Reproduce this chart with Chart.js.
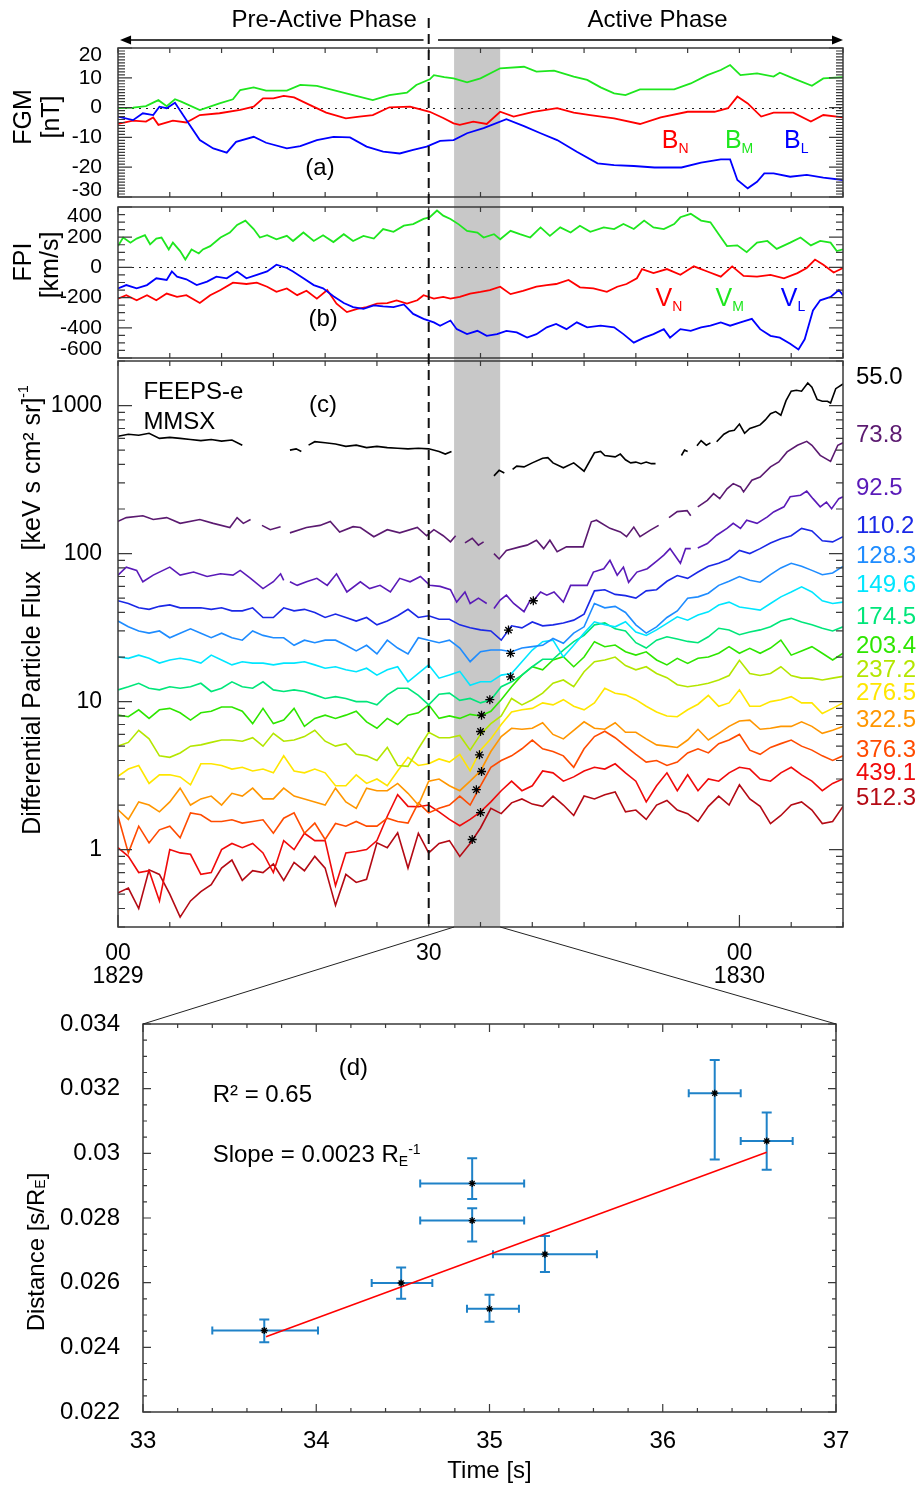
<!DOCTYPE html>
<html>
<head>
<meta charset="utf-8">
<title>MMS FGM / FPI / FEEPS 18:29-18:30 UT</title>
<script src="https://cdn.jsdelivr.net/npm/chart.js@4.4.1/dist/chart.umd.min.js"></script>
<style>
  body { margin: 0; background: #fff; }
  #page { position: relative; width: 921px; height: 1489px; overflow: hidden; }
  #page canvas { position: absolute; left: 0; }
</style>
</head>
<body>
<div id="page">
  <canvas id="fgm" width="921" height="163" style="top:40px"></canvas>
  <canvas id="fpi" width="921" height="157" style="top:203px"></canvas>
  <canvas id="feeps" width="921" height="633" style="top:360px"></canvas>
  <canvas id="fit" width="921" height="481" style="top:1008px"></canvas>
  <canvas id="overlay" width="921" height="1489" style="top:0"></canvas>
</div>
<script>
// Time axis of panels a-c: seconds after 18:29:00 UT.
const FONT = "'Liberation Sans', Arial, sans-serif";
Chart.defaults.font.family = FONT;
Chart.defaults.color = '#000';

const onsetT = 30;
const bandT = [32.45, 36.9];
const phaseLabels = ['Pre-Active Phase', 'Active Phase'];
const timeTickValues = [0, 30, 60];
const timeTickLabels = [['00', '1829'], ['30'], ['00', '1830']];

// (a) FGM [nT]
const bmT = [0,1.45,2.7,3.9,4.7,5.5,6.1,7.9,9.8,11.1,11.8,13.1,14.3,16.3,17.6,19.2,20.8,22.7,24.6,26.2,27.9,28.8,30.1,30.5,31.5,32.4,33.7,35,36.9,39.2,40.4,42.1,44,45.3,46.6,47.9,49,50.4,52,53.7,55.3,56.9,58.2,59.1,60.1,61.7,63.3,63.9,65.2,67,68.1,70];
const bmV = [-0.2,0,0.5,2.5,0.5,2.8,2,-0.8,1.4,2.8,5.9,6.8,5.7,5.7,7.6,7.3,5.9,4.2,2.5,4.2,5,7.6,9.5,10.9,10.2,9.8,8.5,9.8,13.2,13.7,12.1,12.4,10.4,9.3,6.8,4.8,4.2,6.1,6.1,6.1,8.1,10.9,12.6,14.3,10.9,11.5,10.4,11.7,9.8,7.3,9.8,10.2];
const bnT = [0,1.45,2.7,3.4,3.9,5.3,6.6,7.9,9.8,11.8,13.1,14,15,16,17,18.5,20.1,22,23.3,24.6,26.2,28.2,30.1,31.4,32.4,33,34.3,35.6,36.9,38.2,40.1,42.4,44,45.6,47.9,50.4,52.4,55,57.6,58.9,59.8,60.8,62.1,63.3,65.2,66.9,68.1,70];
const bnV = [-5.5,-4.4,-4.7,-3.3,-5.8,-4.4,-5,-2.5,-1.9,-0.8,0.3,3.1,3.1,3.9,3.4,0.9,-1.7,-3.6,-3,-2.5,0.1,0.3,-1.4,-3.5,-5.3,-5.8,-4.7,-5.5,-1.4,-3,-1.4,-0.2,-1.7,-2.5,-3.6,-5.5,-3.3,-1.4,-1.4,-0.2,3.7,1.4,-3,-1.7,-1.7,-4.7,-2.5,-3.3];
const blT = [0,1.45,2.4,3.4,4,4.7,5.5,6.6,7.9,9.2,10.5,11.4,13.1,14.3,16.3,17.6,19.2,20.8,22.4,24,25.6,27.2,28.5,29.8,31.1,32.4,33.7,35.3,37.5,39.2,40.8,42.4,44.3,46.3,47.9,49.8,51.8,54.4,56.3,58.2,59.1,59.8,60.8,61.7,62.4,63.3,64.9,66.5,68.1,70];
const blV = [-3,-4.2,-1.9,-2.5,0.3,-0.2,1.6,-4.2,-10.9,-13.7,-15.1,-11.5,-9.8,-11.8,-13.7,-12.9,-10.9,-9.8,-10,-13.1,-14.8,-15.4,-14.2,-13.1,-11.2,-10.9,-8.6,-6.9,-3.9,-6.2,-8.6,-10.9,-14.8,-18.7,-19.3,-19.6,-20.1,-20.1,-18.5,-17.4,-17.4,-24.3,-27.1,-24.9,-22.1,-22.1,-23.2,-22.6,-23.5,-24.3];

// (b) FPI [km/s]
const vmT = [0,0.5,1.2,1.8,2.6,3.1,3.7,4.2,4.9,5.3,6,6.5,7.1,7.8,8.2,8.9,9.9,10.8,11.5,12.3,13.1,13.7,14.4,15.3,16.3,16.9,17.9,18.9,19.8,20.8,21.8,22.7,23.7,24.7,25.6,26.6,27.6,28.5,29.5,30.1,30.8,31.4,32.1,32.9,33.7,34.7,35.3,36.3,36.9,37.9,38.8,39.8,40.8,41.7,42.7,43.7,44.6,45.6,46.9,47.9,48.8,49.8,50.8,51.7,52.7,53.7,54.3,55.3,56.3,57.2,58,58.8,59.8,60.7,61.7,62.7,63.6,64.9,65.9,66.9,67.8,68.8,69.4,70];
const vmV = [141,198,164,191,213,153,191,198,119,164,108,52,119,92,119,141,198,231,281,310,254,198,213,186,209,175,231,175,213,168,220,175,209,191,254,236,276,287,321,332,377,343,321,285,242,231,198,220,186,242,220,198,265,209,265,231,276,236,265,254,287,254,310,265,254,287,332,355,310,299,220,141,146,101,164,175,123,164,198,146,175,164,108,119];
const vnT = [0,0.8,1.8,2.8,3.7,4.7,5.7,6.6,7.9,8.9,9.9,11.1,12.4,13.4,14.4,15.3,16.3,17.3,18.2,19.2,20.2,21.1,22.1,23.1,24,25,26,26.9,27.9,28.9,29.5,30.5,31.4,32.1,33,34,35,35.9,36.9,37.9,39.1,40.4,41.4,42.3,43.5,44.6,45.9,47.2,48.2,49.1,50.1,50.6,51.7,53,54.3,55.6,56.9,58.2,59.3,60.4,61.7,63,64.3,65.6,66.5,67.3,68.1,69.1,70];
const vnV = [-207,-184,-218,-184,-218,-173,-195,-184,-236,-184,-150,-101,-110,-101,-128,-162,-139,-184,-155,-207,-150,-240,-296,-274,-263,-240,-236,-218,-240,-218,-184,-207,-195,-207,-195,-173,-162,-150,-128,-177,-155,-128,-117,-110,-83,-132,-139,-162,-128,-110,-72,-11,-38,-11,-49,7,-27,-61,7,-56,-61,-49,-72,-38,-4,52,18,-34,-4];
const vlT = [0,0.8,1.8,2.8,3.7,4.7,5.2,5.7,6.6,7.6,8.6,9.5,10.5,11.5,12.4,13.4,14.4,15.3,16.3,16.9,17.9,18.9,19.8,20.8,21.8,22.7,23.7,24.7,25.6,26.6,27.6,28.5,29.5,30.5,31.1,32.1,32.7,33.7,34.7,35.6,36.6,37.5,38.5,39.5,40.4,41.4,42.3,43.3,44.3,45.3,46.6,47.9,48.8,49.8,50.8,51.7,52.7,53.3,54.3,55.3,56.3,57.2,58.2,59.1,60.1,61.2,62,63,63.9,64.9,65.7,66.3,67.1,67.8,68.8,69.6,70];
const vlV = [-139,-117,-139,-117,-72,-83,-27,-61,-79,-117,-94,-61,-72,-27,-72,-49,-27,18,-4,-27,-72,-117,-139,-191,-236,-263,-274,-251,-258,-263,-245,-308,-341,-364,-386,-352,-409,-442,-420,-453,-442,-420,-431,-465,-442,-397,-375,-409,-364,-397,-386,-397,-442,-498,-465,-442,-409,-465,-409,-420,-397,-386,-364,-386,-364,-341,-409,-453,-465,-505,-543,-476,-285,-218,-195,-150,-184];

// (c) FEEPS electron flux [(keV s cm2 sr)^-1], channels in keV
const energyLabels = ['55.0','73.8','92.5','110.2','128.3','149.6','174.5','203.4','237.2','276.5','322.5','376.3','439.1','512.3'];
const fluxTicks = [1, 10, 100, 1000];
// channels with data gaps keep their own time stamps
const f55T = [0,1,2,3,4,5,6,7,8,9,10,11,12,12.5,16.6,17.2,17.7,18,18.4,19,20,21,22,23,24,25,26,27,28,29,30,31,31.6,32.2,32.5,36.3,36.8,37.3,37.6,38.1,38.5,39.2,40,41,41.5,42,43,44,45,46,46.6,47,48,48.5,49,49.5,50,50.5,51,51.5,51.9,52.3,54.4,54.7,55,55.3,55.9,56.3,56.8,57.2,57.5,57.8,58.5,59,59.5,60,60.5,61,61.5,62,62.5,63,63.5,64,64.5,65,65.5,66,66.6,67,67.5,68,68.5,68.8,69.3,70];
const f55V = [620,640,630,650,600,610,600,590,580,590,575,585,540,null,500,510,490,null,540,570,560,550,530,540,520,530,520,515,510,515,510,490,470,490,null,335,365,350,null,370,390,385,410,440,445,410,380,410,360,480,490,460,450,470,430,410,415,405,415,405,405,null,460,500,490,null,535,580,540,560,null,570,640,670,680,750,650,700,720,740,800,880,910,860,1080,1250,1270,1250,1420,1330,1100,1070,1070,1040,1300,1400];
const f74T = [0,0.8,2.4,3.4,4.7,6,7.9,9.2,10.8,11.5,12.1,12.8,13.2,13.9,14.7,15.7,16.1,16.6,18.2,19.5,20.5,21.4,22.7,23.4,24.7,26,27.2,28.9,29.8,30.5,31.4,32.1,32.6,33,33.5,34.2,34.8,35.3,35.7,36.3,36.8,37.5,38.8,39.5,40.4,41.1,41.7,42.4,43.3,44.9,45.7,46.2,47.5,48.5,49.1,49.8,50.4,51.4,52.2,52.7,53.2,54,54.95,55.3,55.6,55.98,56.9,57.5,58.1,58.8,59.4,60.1,60.4,61.2,62,63,63.8,64.6,65.6,66.5,67,67.8,68.8,69.5,70];
const f74V = [165,175,180,170,175,160,170,160,150,175,160,170,null,155,145,152,null,138,150,155,165,140,152,150,130,145,138,150,132,145,132,120,132,null,118,127,114,120,null,100,92,105,111,114,123,108,123,103,111,111,164,168,148,140,130,151,130,144,155,null,175,192,195,180,null,207,229,254,235,274,297,282,261,313,329,385,416,486,539,573,539,461,420,539,560];
const f92T = [0,0.8,1.8,2.4,3.4,5,6,7.3,8.6,9.9,11.1,11.8,12.8,14,15,15.7,16,16.3,16.6,17.3,18.2,19.2,20.2,21.1,22.1,23.4,24.3,25.3,26.3,27.2,28.2,29.2,30.1,31.1,32.1,32.7,33.5,34,34.8,35.6,35.9,36.3,36.9,37.5,38.2,39.2,39.8,40.1,40.8,41.4,42.1,43,43.7,44.6,45.3,45.9,46.9,47.5,48.2,48.8,49.3,50.1,51.1,52.1,52.7,53.3,54.3,54.8,55.3,55.6,55.98,56.9,57.8,58.8,59.4,60.1,60.7,61.7,62.7,63.3,64.3,64.9,65.9,66.5,67.1,67.8,68.4,68.9,69.6,70];
const f92V = [71.5,81,77,64.5,71.5,81,71.5,75,70,73,71.5,77,68,58,64.5,73,66,null,64.5,61,64.5,68,61,73,55,64.5,58,61,55,68,64.5,70,61,60,57,47,55,46,50,46,null,42.6,48.5,52.4,46,40.5,48.5,48,55,52.4,55,47,61,61,61,75,79,90,71.5,81,64,75,79,90,97.6,108,86,108,108,null,109,117,133,148,160,148,168,160,177,191,207,242,248,264,235,207,223,201,235,242];
// continuous channels share a 1 s grid
const fluxT = [0,1,2,3,4,5,6,7,8,9,10,11,12,13,14,15,16,17,18,19,20,21,22,23,24,25,26,27,28,29,30,31,32,33,34,35,36,37,38,39,40,41,42,43,44,45,46,47,48,49,50,51,52,53,54,55,56,57,58,59,60,61,62,63,64,65,66,67,68,69,70];
const f110 = [48,46,43,42,44,45,43,43,43,42,43,41,41,43,37,37,43,41,42,40,37,39,37,35,37,33,35,38,42,37,38,36,36,33,31.5,30.5,30,26,32.5,31.5,34.5,32.5,33,34,35.5,39,56,57,53,52,50,56,57,65,71,68,75,82,86,92,105,100,108,118,126,132,148,142,122,120,130];
const f128 = [35,32,30,29,30,27,29,31,29,27,29,27,26,30,28,27,27,24,26,25,26,26,24,22,24,21,26,23,21,27,26,25,26,23,18.6,21.7,22.3,22.3,21.7,23,23.5,24,26.7,24.8,29,32,46,43,44,40,33,29,32,37,41,50,51,54,61,65,70,66,64,72,80,86,82,77,72,74,82];
const f150 = [20,19.6,20.6,19.6,18.2,19.1,19.6,19.1,18.2,20.6,19.1,17.7,18.6,18.2,18.2,17.7,18.2,18.2,18.6,17.7,16.8,17.2,16.4,15.9,16.8,15.1,16.4,17.2,13.6,15.5,17.7,14.4,15.1,16,12.9,13.6,13.6,15.1,15.5,18.6,22.3,25.4,26,20,24,29,34.6,33,32,34.6,29.5,28,30.5,33.8,37.4,35.5,38.4,40.4,44.9,47,43.6,42.6,41.5,46,51,55,59.6,55,48,46,47];
const f175 = [12,12.6,13.3,12.3,12,12.6,12.3,12.6,13.3,11.7,12.3,13.6,12.6,12.3,13.6,12,11.7,12,11.7,11.1,10.5,10.8,10.5,10,10,9.5,11.1,12.3,12.3,11,9.5,11.2,11.4,10.2,10.5,9.8,10.3,12.6,13.6,15.1,17.2,19.3,19.3,22.3,25.4,28,33,34,31,30,25,23,26,27.4,26.5,25.5,25,27.4,31.3,30.5,28.3,29.5,30.5,32,35,36.5,34.5,33,31.3,30,32];
const f203 = [8.1,7.9,8.8,7.7,8.8,9,8.4,7.5,8.4,8.6,9.2,9.2,8.6,7.1,9,7.1,7.5,9,6.8,7.7,8.1,7.7,8.1,8.6,7.3,6.6,7.7,7,8.1,8.4,9.5,7.7,8,7.7,8.2,8,8.6,10.3,12.6,15.1,17.2,16.4,19.1,20.1,17.2,20,25.4,23.5,24.1,21.7,20.6,21.7,19.1,17.7,19.6,18.1,19.6,20,21.2,23.5,21.2,22.9,21.2,23,26,20.6,22,23.5,21.2,19.1,21.2];
const f237 = [5,5.3,6.4,5.6,4.3,4.2,4.5,5,5.1,5.3,5.5,5.5,5.4,5.7,5,6.1,5.4,5.5,5.8,6.4,5.4,5,5.2,4.4,4.3,4,4.9,3.7,3.65,4.8,6.2,5.7,5.7,5.9,4.7,6,7.1,8,10.5,9.5,10.3,11.4,13.3,14,12.6,15.9,18.6,19.1,20,17.5,16.4,17.2,15.5,14.5,13,12.6,12.9,13.3,14,15,19,15.5,15,15.5,17.2,15,14.4,14.4,14,14.4,14.8];
const f276 = [3.13,3.5,3.7,2.8,3.2,3.2,3.1,2.74,3.8,3.8,3.7,3.5,3.6,3.4,3.5,3.3,4.3,3.4,3.3,3.5,3.3,2.7,2.7,3.2,2.8,3,2.7,3.4,4.2,3.7,3.8,4.1,3.9,4.4,3.4,4.7,5.6,7,8.5,8.8,9,9.8,9.5,10.3,9.3,8.8,9.8,12.3,11.4,11.1,10.3,9.3,8.5,8,7.9,8.8,9.6,11,9.3,9.8,12,9.3,9.3,10,10.3,10.8,9.8,9.8,8.3,9,9.8];
const f322 = [1.86,1.6,2.1,2,1.8,2.1,2.6,2,2.2,2.3,2,2.4,2.3,2.6,2.2,2.2,2.6,2.3,2.2,2.1,2,2.6,2.1,1.9,2.6,2.5,2.5,2.8,2.4,2,2.9,3,2.7,2.5,2.9,3.4,4.6,5.8,6.6,6.5,6.6,7.2,6,5.6,6.4,7.3,6.6,6.5,7.2,6.2,6.2,5.6,5.1,5,4.9,5.5,6.5,5.5,6.1,6.8,7.4,7.5,6.5,6.6,6.8,6.8,7.3,6.8,6.1,6.4,6.8];
const f376 = [1.68,0.95,1.44,1.11,1.36,1.44,1.2,1.77,1.72,1.55,1.55,1.59,1.51,1.55,1.59,1.29,1.63,1.77,1.29,1.51,1.17,1.5,1.44,1.55,1.44,1.44,1.63,1.55,1.51,2.07,1.77,1.9,2,2.3,2,2.7,3.6,4,4.3,4.8,5.5,4.8,4.6,4.3,3.6,4.8,5.8,6.3,5.7,5,4.4,3.9,4,3.7,3.9,4.5,4.8,4.5,5.2,5.5,6,4.7,4.4,4.9,5.2,5.5,5,4.7,4.3,4,4.3];
const f439 = [1.03,0.9,0.7,0.72,0.45,1,0.95,0.93,0.68,0.7,1,1.1,1.03,1.1,0.95,0.7,1.15,1,1.29,1.15,1.15,0.57,0.95,0.97,1,1.15,1.68,2.35,1.96,1.95,2,1.8,1.6,1.45,1.6,1.8,2.1,2.5,2.9,2.5,2.7,3.4,3.3,2.9,3.1,3.4,3.6,3.5,3.8,3.3,2.9,2.1,2.7,3.3,2.5,3.2,2.5,3,2.9,3.3,3.6,3.5,3,2.9,3.3,3.6,3.2,2.9,2.5,2.8,3];
const f512 = [0.51,0.55,0.4,0.73,0.68,0.5,0.35,0.45,0.52,0.58,0.75,0.85,0.62,0.72,0.7,0.8,0.62,0.82,0.72,0.9,0.75,0.42,0.68,0.6,0.63,1.11,1.03,1.3,0.75,1.29,0.95,1.1,1.15,0.9,1.1,1.4,1.9,1.75,2.07,2.2,2.03,1.96,2.3,2,1.7,2.3,2.2,2.35,2.45,1.8,1.85,1.6,2,2.15,1.85,1.75,1.55,1.96,2.3,2,2.74,2.2,1.96,1.5,1.7,2,2.1,1.85,1.5,1.55,1.96];
// onset times picked per channel (asterisks)
const onsetPickT = [40.1,37.7,37.9,37.9,35.9,35.1,35.0,34.9,35.1,34.6,35.0,34.2];
const onsetPickV = [48,30.4,21.2,14.7,10.3,8.1,6.28,4.37,3.37,2.54,1.78,1.17];

// (d) onset time vs distance
const dTime   = [33.70,34.49,35.00,35.32,34.90,34.90,36.30,36.60];
const dTimeLo = [33.40,34.32,34.87,35.02,34.60,34.60,36.15,36.45];
const dTimeHi = [34.01,34.67,35.17,35.62,35.20,35.20,36.45,36.75];
const dDist   = [0.02452,0.02599,0.02519,0.02688,0.02907,0.02792,0.03186,0.03038];
const dDistLo = [0.02416,0.02550,0.02479,0.02633,0.02859,0.02727,0.02981,0.02949];
const dDistHi = [0.02486,0.02647,0.02563,0.02744,0.02985,0.02830,0.03289,0.03126];
const fitT = [33.71, 36.6];
const fitD = [0.02433, 0.03003];

// ---- styling / layout ----
const energyColors = ['#000000','#5b1a70','#5a1ab8','#1a28e6','#1e8cff','#00e6ff','#00e67a','#2ee600','#b4e600','#ffe600','#ff9600','#ff4b00','#f00a0a','#b40a14'];
const energyLabelY = [377,435,488,526,556,585,617,646,670,693,720,750,773,798];
const RED = '#ff0000', GREEN = '#1ee61e', BLUE = '#0000ff';

const xy = (t, v) => t.map((x, i) => ({ x, y: v[i] }));

function line(data, color, width) {
  return { data, borderColor: color, borderWidth: width || 1.6, pointRadius: 0, tension: 0, fill: false, spanGaps: false };
}

function linearTicks(min, max, minor, major) {
  const out = [];
  const n0 = Math.ceil(min / minor - 1e-6), n1 = Math.floor(max / minor + 1e-6);
  for (let n = n0; n <= n1; n++) {
    const v = n * minor;
    out.push([v, Math.abs(v / major - Math.round(v / major)) < 1e-6]);
  }
  return out;
}

function logTicks(min, max) {
  const out = [];
  for (let d = Math.floor(Math.log10(min)); d <= Math.ceil(Math.log10(max)); d++) {
    for (let m = 1; m <= 9; m++) {
      const v = m * Math.pow(10, d);
      if (v >= min && v <= max) out.push([v, m === 1]);
    }
  }
  return out;
}

// parts: [text, color, kind] with kind 0 normal, 1 subscript, 2 superscript
function drawRich(ctx, x, y, parts, size, align) {
  const small = Math.round(size * 0.58);
  let w = 0;
  parts.forEach(p => { ctx.font = `${p[2] ? small : size}px ${FONT}`; w += ctx.measureText(p[0]).width; });
  let cx = align === 'center' ? x - w / 2 : x;
  ctx.textAlign = 'left';
  parts.forEach(p => {
    ctx.font = `${p[2] ? small : size}px ${FONT}`;
    ctx.fillStyle = p[1] || '#000';
    const dy = p[2] === 1 ? size * 0.18 : p[2] === 2 ? -size * 0.34 : 0;
    ctx.fillText(p[0], cx, y + dy);
    cx += ctx.measureText(p[0]).width;
  });
}

// IDL-like box: shaded interval, zero line, inward ticks, labels in data coords
const idlPlugin = {
  id: 'idl',
  beforeDraw(chart, args, o) {
    if (!o.clampLabels) return;
    const a = chart.chartArea;
    chart.scales.y.getLabelItems().forEach(it => {
      const tr = it.options.translation;
      tr[1] = Math.min(Math.max(tr[1], a.top + o.clampLabels), a.bottom - o.clampLabels);
    });
  },
  beforeDatasetsDraw(chart, args, o) {
    const { ctx, chartArea: a, scales: { x, y } } = chart;
    ctx.save();
    if (o.band) {
      const x0 = x.getPixelForValue(o.band[0]), x1 = x.getPixelForValue(o.band[1]);
      const y0 = o.bandTop === 'canvas' ? 0 : a.top;
      const y1 = o.bandBottom === 'canvas' ? chart.height : a.bottom;
      ctx.fillStyle = '#c8c8c8';
      ctx.fillRect(x0, y0, x1 - x0, y1 - y0);
    }
    if (o.zero) {
      const yz = Math.round(y.getPixelForValue(0)) + 0.5;
      ctx.strokeStyle = '#222';
      ctx.lineWidth = 1;
      ctx.setLineDash([2, 5]);
      ctx.beginPath(); ctx.moveTo(a.left, yz); ctx.lineTo(a.right, yz); ctx.stroke();
      ctx.setLineDash([]);
    }
    if (o.errors) {
      const e = o.errors;
      ctx.strokeStyle = '#1f82c8';
      ctx.lineWidth = 2;
      ctx.beginPath();
      e.t.forEach((t, i) => {
        const px = x.getPixelForValue(t), py = y.getPixelForValue(e.d[i]);
        const xl = x.getPixelForValue(e.tLo[i]), xr = x.getPixelForValue(e.tHi[i]);
        const yt = y.getPixelForValue(e.dHi[i]), yb = y.getPixelForValue(e.dLo[i]);
        ctx.moveTo(xl, py); ctx.lineTo(xr, py);
        ctx.moveTo(xl, py - 4); ctx.lineTo(xl, py + 4);
        ctx.moveTo(xr, py - 4); ctx.lineTo(xr, py + 4);
        ctx.moveTo(px, yt); ctx.lineTo(px, yb);
        ctx.moveTo(px - 5, yt); ctx.lineTo(px + 5, yt);
        ctx.moveTo(px - 5, yb); ctx.lineTo(px + 5, yb);
      });
      ctx.stroke();
    }
    ctx.restore();
  },
  afterDatasetsDraw(chart, args, o) {
    const { ctx, chartArea: a, scales: { x, y } } = chart;
    ctx.save();
    ctx.strokeStyle = '#3a3a3a';
    ctx.lineWidth = 1.2;
    ctx.beginPath();
    linearTicks(x.min, x.max, o.xMinor, o.xMajor).forEach(([v, major]) => {
      const px = x.getPixelForValue(v);
      ctx.moveTo(px, a.top); ctx.lineTo(px, a.top + (major ? o.xTopMajor : o.xTopMinor));
      ctx.moveTo(px, a.bottom); ctx.lineTo(px, a.bottom - (major ? o.xBotMajor : o.xBotMinor));
    });
    const yt = o.log ? logTicks(y.min, y.max) : linearTicks(y.min, y.max, o.yMinor, o.yMajor);
    yt.forEach(([v, major]) => {
      const py = y.getPixelForValue(v);
      const len = major ? o.yMajorLen : o.yMinorLen;
      ctx.moveTo(a.left, py); ctx.lineTo(a.left + len, py);
      ctx.moveTo(a.right, py); ctx.lineTo(a.right - len, py);
    });
    ctx.stroke();
    ctx.lineWidth = 1.5;
    ctx.strokeRect(a.left, a.top, a.right - a.left, a.bottom - a.top);
    ctx.restore();
  },
  afterDraw(chart, args, o) {
    const { ctx, scales: { x, y } } = chart;
    (o.notes || []).forEach(n => {
      ctx.save();
      ctx.textBaseline = 'alphabetic';
      drawRich(ctx, x.getPixelForValue(n.x), y.getPixelForValue(n.y), n.parts, n.size || 24, n.align);
      ctx.restore();
    });
  }
};
Chart.register(idlPlugin);

const tickFont = { size: 23, lineHeight: 1 };
const smallTickFont = { size: 21, lineHeight: 1 };

// scale label overflow must not shrink the plot box
function noPad(s) { s.paddingTop = 0; s.paddingBottom = 0; s.paddingLeft = 0; s.paddingRight = 0; }

function yScale(width, padding, extra) {
  return Object.assign({
    grid: { display: false },
    border: { display: false },
    afterFit: s => { s.width = width; noPad(s); },
  }, extra, {
    ticks: Object.assign({ color: '#000', font: tickFont, padding, autoSkip: false }, extra.ticks || {}),
  });
}

function baseOptions(padding, scales, idl) {
  return {
    responsive: false,
    animation: false,
    devicePixelRatio: 1,
    events: [],
    layout: { padding, autoPadding: false },
    scales,
    plugins: { legend: { display: false }, tooltip: { enabled: false }, idl },
  };
}

const timeBoxTicks = { xMinor: 5, xMajor: 30, xTopMinor: 5, xTopMajor: 5, xBotMinor: 5, xBotMajor: 5 };

// (a)
const fgmChart = new Chart(document.getElementById('fgm'), {
  type: 'line',
  data: { datasets: [
    line(xy(blT, blV), BLUE, 1.8),
    line(xy(bnT, bnV), RED, 1.8),
    line(xy(bmT, bmV), GREEN, 1.8),
  ] },
  options: baseOptions({ top: 8, bottom: 6, left: 0, right: 78 }, {
    x: { type: 'linear', min: 0, max: 70, display: false },
    y: yScale(118, 8, { min: -30, max: 20, ticks: { stepSize: 10, font: smallTickFont, callback: v => String(v) } }),
  }, Object.assign({}, timeBoxTicks, {
    band: bandT, bandBottom: 'canvas', zero: true, clampLabels: 7,
    yMinor: 1, yMajor: 10, yMinorLen: 7, yMajorLen: 14,
    notes: [
      { x: 19.5, y: -22.6, parts: [['(a)']], size: 24, align: 'center' },
      { x: 52.5, y: -13.7, parts: [['B', RED, 0], ['N', RED, 1]], size: 25 },
      { x: 58.6, y: -13.7, parts: [['B', GREEN, 0], ['M', GREEN, 1]], size: 25 },
      { x: 64.3, y: -13.7, parts: [['B', BLUE, 0], ['L', BLUE, 1]], size: 25 },
    ],
  })),
});

// (b)
const fpiChart = new Chart(document.getElementById('fpi'), {
  type: 'line',
  data: { datasets: [
    line(xy(vlT, vlV), BLUE, 1.8),
    line(xy(vnT, vnV), RED, 1.8),
    line(xy(vmT, vmV), GREEN, 1.8),
  ] },
  options: baseOptions({ top: 4, bottom: 2, left: 0, right: 78 }, {
    x: { type: 'linear', min: 0, max: 70, display: false },
    y: yScale(118, 8, { min: -600, max: 400, ticks: { stepSize: 200, font: smallTickFont, callback: v => String(v) } }),
  }, Object.assign({}, timeBoxTicks, {
    band: bandT, bandTop: 'canvas', bandBottom: 'canvas', zero: true, clampLabels: 9,
    yMinor: 50, yMajor: 200, yMinorLen: 7, yMajorLen: 14,
    notes: [
      { x: 19.8, y: -387, parts: [['(b)']], size: 24, align: 'center' },
      { x: 51.9, y: -258, parts: [['V', RED, 0], ['N', RED, 1]], size: 25 },
      { x: 57.7, y: -258, parts: [['V', GREEN, 0], ['M', GREEN, 1]], size: 25 },
      { x: 64.0, y: -258, parts: [['V', BLUE, 0], ['L', BLUE, 1]], size: 25 },
    ],
  })),
});

// (c)
const gridSeries = [f110, f128, f150, f175, f203, f237, f276, f322, f376, f439, f512];
const feepsChart = new Chart(document.getElementById('feeps'), {
  type: 'line',
  data: { datasets: [
    { data: xy(onsetPickT, onsetPickV), showLine: false, pointStyle: 'star', pointRadius: 4.5, borderColor: '#000', borderWidth: 1.3 },
    line(xy(f55T, f55V), energyColors[0]),
    line(xy(f74T, f74V), energyColors[1]),
    line(xy(f92T, f92V), energyColors[2]),
    ...gridSeries.map((s, i) => line(xy(fluxT, s), energyColors[i + 3])),
  ] },
  options: baseOptions({ top: 1, bottom: 0, left: 0, right: 78 }, {
    x: {
      type: 'linear', min: 0, max: 70,
      grid: { display: false }, border: { display: false },
      afterBuildTicks: s => { s.ticks = timeTickValues.map(v => ({ value: v })); },
      afterFit: s => { s.height = 66; noPad(s); },
      ticks: {
        color: '#000', font: tickFont, padding: 7, autoSkip: false, maxRotation: 0,
        callback: v => timeTickLabels[timeTickValues.indexOf(v)],
      },
    },
    y: yScale(118, 8, {
      type: 'logarithmic', min: 0.3, max: 2000,
      afterBuildTicks: s => { s.ticks = fluxTicks.map(v => ({ value: v })); },
      ticks: { callback: v => String(v) },
    }),
  }, Object.assign({}, timeBoxTicks, {
    band: bandT, bandTop: 'canvas', log: true, xBotMajor: 12,
    yMinorLen: 7, yMajorLen: 14,
    notes: [
      { x: 19.8, y: 898, parts: [['(c)']], size: 24, align: 'center' },
      { x: 2.45, y: 1110, parts: [['FEEPS-e']], size: 24 },
      { x: 2.45, y: 697, parts: [['MMSX']], size: 24 },
    ],
  })),
});

// (d)
const fitChart = new Chart(document.getElementById('fit'), {
  type: 'line',
  data: { datasets: [
    { data: xy(dTime, dDist), showLine: false, pointStyle: 'star', pointRadius: 3.5, borderColor: '#000', borderWidth: 1.3 },
    line(xy(fitT, fitD), '#ff0000', 1.6),
  ] },
  options: baseOptions({ top: 16, bottom: 0, left: 0, right: 85 }, {
    x: {
      type: 'linear', min: 33, max: 37,
      grid: { display: false }, border: { display: false },
      afterFit: s => { s.height = 77; noPad(s); },
      ticks: { color: '#000', font: { size: 24, lineHeight: 1 }, padding: 9, stepSize: 1, autoSkip: false, maxRotation: 0 },
      title: { display: true, text: 'Time [s]', color: '#000', font: { size: 24, lineHeight: 1.2 }, padding: { top: 0, bottom: 3 } },
    },
    y: yScale(143, 15, {
      min: 0.022, max: 0.034,
      ticks: { stepSize: 0.002, font: { size: 24, lineHeight: 1 }, callback: v => String(+v.toFixed(3)) },
    }),
  }, {
    xMinor: 0.2, xMajor: 1, xTopMinor: 4, xTopMajor: 8, xBotMinor: 4, xBotMajor: 8,
    yMinor: 0.0005, yMajor: 0.002, yMinorLen: 4, yMajorLen: 8,
    errors: { t: dTime, d: dDist, tLo: dTimeLo, tHi: dTimeHi, dLo: dDistLo, dHi: dDistHi },
    notes: [
      { x: 34.214, y: 0.03241, parts: [['(d)']], size: 24, align: 'center' },
      { x: 33.402, y: 0.0316, parts: [['R\u00b2 = 0.65']], size: 24 },
      { x: 33.402, y: 0.02974, parts: [['Slope = 0.0023 R', '#000', 0], ['E', '#000', 1], ['-1', '#000', 2]], size: 24 },
    ],
  }),
});

// ---- overlay: phase arrows, onset line, zoom connectors, axis titles, channel labels ----
(function drawOverlay() {
  const ctx = document.getElementById('overlay').getContext('2d');
  const xs = fgmChart.scales.x;
  const px = t => xs.getPixelForValue(t);
  const topC = feepsChart.canvas.offsetTop, topD = fitChart.canvas.offsetTop;
  const areaC = feepsChart.chartArea, areaD = fitChart.chartArea;
  const bottomC = topC + areaC.bottom;

  ctx.strokeStyle = '#000';
  ctx.fillStyle = '#000';
  ctx.lineWidth = 1.5;
  function arrow(x0, x1, y) {
    const dir = Math.sign(x1 - x0);
    ctx.beginPath(); ctx.moveTo(x0, y); ctx.lineTo(x1 - dir * 8, y); ctx.stroke();
    ctx.beginPath(); ctx.moveTo(x1, y); ctx.lineTo(x1 - dir * 11, y - 4.5); ctx.lineTo(x1 - dir * 11, y + 4.5); ctx.closePath(); ctx.fill();
  }
  arrow(px(29.5), px(0.2), 40);
  arrow(px(30.9), px(70), 40);
  ctx.textBaseline = 'alphabetic';
  drawRich(ctx, px(19.9), 27, [[phaseLabels[0]]], 24, 'center');
  drawRich(ctx, px(52.1), 27, [[phaseLabels[1]]], 24, 'center');

  // onset of the active phase
  ctx.save();
  ctx.strokeStyle = '#111';
  ctx.lineWidth = 2;
  ctx.setLineDash([10, 6]);
  ctx.beginPath(); ctx.moveTo(px(onsetT), 18); ctx.lineTo(px(onsetT), bottomC); ctx.stroke();
  ctx.restore();

  // connectors from the shaded interval to panel (d)
  ctx.lineWidth = 1;
  ctx.strokeStyle = '#222';
  ctx.beginPath();
  ctx.moveTo(px(bandT[0]), bottomC); ctx.lineTo(areaD.left, topD + areaD.top);
  ctx.moveTo(px(bandT[1]), bottomC); ctx.lineTo(areaD.right, topD + areaD.top);
  ctx.stroke();

  // rotated axis titles
  function rotated(x, y, parts, size) {
    ctx.save();
    ctx.translate(x, y);
    ctx.rotate(-Math.PI / 2);
    ctx.textBaseline = 'middle';
    drawRich(ctx, 0, 0, parts, size, 'center');
    ctx.restore();
  }
  rotated(24, 117, [['FGM']], 25);
  rotated(52, 117, [['[nT]']], 25);
  rotated(24, 262, [['FPI']], 25);
  rotated(51, 265, [['[km/s]']], 25);
  rotated(33, 610, [['Differential Particle Flux   [keV s cm\u00b2 sr]', '#000', 0], ['-1', '#000', 2]], 25);
  rotated(37, 1252, [['Distance [s/R', '#000', 0], ['E', '#000', 1], [']', '#000', 0]], 24);

  // energy channel labels (keV)
  ctx.textBaseline = 'middle';
  energyLabels.forEach((s, i) => {
    drawRich(ctx, areaC.right + 13, energyLabelY[i], [[s, energyColors[i]]], 24, 'left');
  });
})();
</script>
</body>
</html>
